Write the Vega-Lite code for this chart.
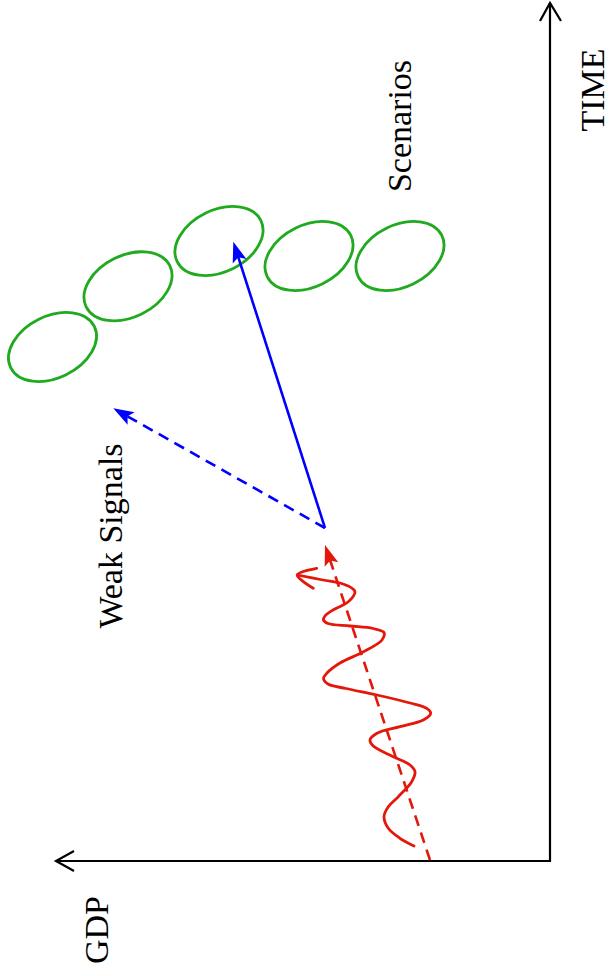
{
  "$schema": "https://vega.github.io/schema/vega-lite/v6.json",
  "width": 610,
  "height": 976,
  "padding": 0,
  "autosize": {"type": "none"},
  "background": "white",
  "config": {"view": {"stroke": null}},
  "datasets": {
    "axes": [
      {"seg": "axes", "i": 1, "gdp": 494, "time": 0},
      {"seg": "axes", "i": 2, "gdp": 0, "time": 0},
      {"seg": "axes", "i": 3, "gdp": 0, "time": 858},
      {"seg": "timehead", "i": 1, "gdp": 10, "time": 840},
      {"seg": "timehead", "i": 2, "gdp": 0, "time": 858},
      {"seg": "timehead", "i": 3, "gdp": -11, "time": 840},
      {"seg": "gdphead", "i": 1, "gdp": 476, "time": 10},
      {"seg": "gdphead", "i": 2, "gdp": 494, "time": 0},
      {"seg": "gdphead", "i": 3, "gdp": 476, "time": -10}
    ],
    "arrows": [
      {"seg": "scenario", "series": "signal", "kind": "solid", "i": 1, "gdp": 225, "time": 333},
      {"seg": "scenario", "series": "signal", "kind": "solid", "i": 2, "gdp": 313.6, "time": 609.8},
      {"seg": "weak", "series": "signal", "kind": "dashed", "i": 1, "gdp": 225, "time": 333},
      {"seg": "weak", "series": "signal", "kind": "dashed", "i": 2, "gdp": 428, "time": 447.8},
      {"seg": "trend", "series": "trend", "kind": "dashed", "i": 1, "gdp": 120, "time": 1},
      {"seg": "trend", "series": "trend", "kind": "dashed", "i": 2, "gdp": 221.8, "time": 306.5}
    ],
    "heads": [
      {"series": "signal", "gdp": 316.7, "time": 619.3, "heading": 342.2},
      {"series": "signal", "gdp": 436.7, "time": 452.7, "heading": 299.5},
      {"series": "trend", "gdp": 225, "time": 316, "heading": 341.6}
    ],
    "wiggle": [
      {"seg": "gdp", "i": 1, "gdp": 252.7, "time": 286},
      {"seg": "gdp", "i": 2, "gdp": 227, "time": 281},
      {"seg": "gdp", "i": 3, "gdp": 207, "time": 277},
      {"seg": "gdp", "i": 4, "gdp": 197, "time": 272},
      {"seg": "gdp", "i": 5, "gdp": 195, "time": 269},
      {"seg": "gdp", "i": 6, "gdp": 202, "time": 259},
      {"seg": "gdp", "i": 7, "gdp": 217, "time": 251},
      {"seg": "gdp", "i": 8, "gdp": 225, "time": 245},
      {"seg": "gdp", "i": 9, "gdp": 226.5, "time": 241},
      {"seg": "gdp", "i": 10, "gdp": 222, "time": 237.5},
      {"seg": "gdp", "i": 11, "gdp": 200, "time": 235},
      {"seg": "gdp", "i": 12, "gdp": 177, "time": 232.5},
      {"seg": "gdp", "i": 13, "gdp": 166, "time": 228.5},
      {"seg": "gdp", "i": 14, "gdp": 168, "time": 221},
      {"seg": "gdp", "i": 15, "gdp": 187, "time": 209},
      {"seg": "gdp", "i": 16, "gdp": 210, "time": 198},
      {"seg": "gdp", "i": 17, "gdp": 223, "time": 188},
      {"seg": "gdp", "i": 18, "gdp": 226.5, "time": 182.5},
      {"seg": "gdp", "i": 19, "gdp": 222, "time": 177},
      {"seg": "gdp", "i": 20, "gdp": 204, "time": 172.5},
      {"seg": "gdp", "i": 21, "gdp": 173, "time": 166},
      {"seg": "gdp", "i": 22, "gdp": 140, "time": 158},
      {"seg": "gdp", "i": 23, "gdp": 123.3, "time": 152.7},
      {"seg": "gdp", "i": 24, "gdp": 119.3, "time": 147.7},
      {"seg": "gdp", "i": 25, "gdp": 126.7, "time": 141},
      {"seg": "gdp", "i": 26, "gdp": 150, "time": 134.3},
      {"seg": "gdp", "i": 27, "gdp": 173, "time": 127.7},
      {"seg": "gdp", "i": 28, "gdp": 180, "time": 121},
      {"seg": "gdp", "i": 29, "gdp": 176.7, "time": 115},
      {"seg": "gdp", "i": 30, "gdp": 156.7, "time": 104.3},
      {"seg": "gdp", "i": 31, "gdp": 140, "time": 96},
      {"seg": "gdp", "i": 32, "gdp": 135, "time": 89.3},
      {"seg": "gdp", "i": 33, "gdp": 138.3, "time": 79.3},
      {"seg": "gdp", "i": 34, "gdp": 151.7, "time": 64.3},
      {"seg": "gdp", "i": 35, "gdp": 161.7, "time": 54.3},
      {"seg": "gdp", "i": 36, "gdp": 166, "time": 44.3},
      {"seg": "gdp", "i": 37, "gdp": 161.7, "time": 32.7},
      {"seg": "gdp", "i": 38, "gdp": 150, "time": 22.7},
      {"seg": "gdp", "i": 39, "gdp": 136, "time": 15},
      {"seg": "tip", "i": 1, "gdp": 233.3, "time": 292.7},
      {"seg": "tip", "i": 2, "gdp": 252.7, "time": 286},
      {"seg": "tip", "i": 3, "gdp": 236.7, "time": 272.7}
    ],
    "scenarios": [
      {"name": "S1", "gdp": 497.5, "time": 514},
      {"name": "S2", "gdp": 422, "time": 574.7},
      {"name": "S3", "gdp": 331, "time": 620},
      {"name": "S4", "gdp": 241, "time": 605},
      {"name": "S5", "gdp": 150, "time": 605}
    ],
    "labels": [
      {"label": "TIME", "gdp": -54, "time": 771},
      {"label": "Scenarios", "gdp": 139, "time": 735},
      {"label": "Weak Signals", "gdp": 428, "time": 325},
      {"label": "GDP", "gdp": 441.7, "time": -69}
    ]
  },
  "encoding": {
    "x": {"field": "gdp", "type": "quantitative", "scale": {"domain": [-60, 550], "reverse": true, "nice": false, "zero": false}, "axis": null},
    "y": {"field": "time", "type": "quantitative", "scale": {"domain": [-115, 861], "nice": false, "zero": false}, "axis": null}
  },
  "layer": [
    {
      "data": {"name": "axes"},
      "mark": {"type": "line", "color": "black", "strokeWidth": 2.2, "strokeJoin": "miter", "strokeCap": "butt"},
      "encoding": {"detail": {"field": "seg"}, "order": {"field": "i", "type": "quantitative"}}
    },
    {
      "data": {"name": "scenarios"},
      "mark": {"type": "point", "filled": false, "color": "#1faa1f", "strokeWidth": 2.8, "opacity": 1, "shape": "M -1 0 A 1 0.663 0 1 1 1 0 A 1 0.663 0 1 1 -1 0 Z", "size": 8686, "angle": 333.8}
    },
    {
      "data": {"name": "arrows"},
      "mark": {"type": "line", "strokeWidth": 2.6},
      "encoding": {
        "detail": {"field": "seg"},
        "order": {"field": "i", "type": "quantitative"},
        "color": {"field": "series", "type": "nominal", "scale": {"domain": ["signal", "trend"], "range": ["#0000ff", "#e3170a"]}, "legend": null},
        "strokeDash": {"field": "kind", "type": "nominal", "scale": {"domain": ["solid", "dashed"], "range": [[1, 0], [11, 7]]}, "legend": null}
      }
    },
    {
      "data": {"name": "heads"},
      "mark": {"type": "point", "filled": true, "opacity": 1, "shape": "M 0 0 L 0.7 2 L 0 1.6 L -0.7 2 Z", "size": 420},
      "encoding": {
        "color": {"field": "series", "type": "nominal", "scale": {"domain": ["signal", "trend"], "range": ["#0000ff", "#e3170a"]}, "legend": null},
        "angle": {"field": "heading", "type": "quantitative", "scale": null}
      }
    },
    {
      "data": {"name": "wiggle"},
      "mark": {"type": "line", "color": "#e3170a", "strokeWidth": 2.8, "interpolate": "catmull-rom", "strokeCap": "round", "strokeJoin": "round"},
      "encoding": {"detail": {"field": "seg"}, "order": {"field": "i", "type": "quantitative"}}
    },
    {
      "data": {"name": "labels"},
      "mark": {"type": "text", "angle": 270, "align": "center", "baseline": "alphabetic", "font": "Liberation Serif", "fontSize": 34, "color": "black"},
      "encoding": {"text": {"field": "label"}}
    }
  ]
}
